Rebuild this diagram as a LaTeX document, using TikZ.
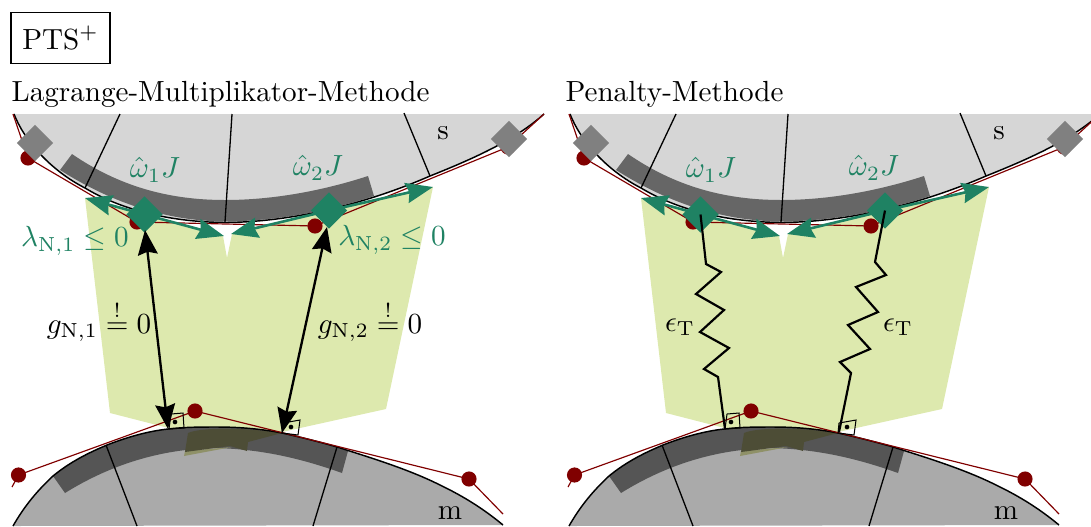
\documentclass[tikz,border=0pt]{standalone}
\usetikzlibrary{arrows.meta}
\definecolor{slavegray}{HTML}{D6D6D6}
\definecolor{mastergray}{HTML}{AAAAAA}
\definecolor{slaveband}{HTML}{666666}
\definecolor{masterband}{HTML}{555555}
\definecolor{patchgreen}{HTML}{DDE9AE}
\definecolor{olive}{HTML}{4D4D36}
\definecolor{olivetip}{HTML}{8F9168}
\definecolor{darkred}{HTML}{800000}
\definecolor{teal}{HTML}{1F8263}
\tikzset{
  grid line/.style={black,line width=0.45pt},
  curve line/.style={black,line width=0.5pt},
  red line/.style={darkred,line width=0.4pt},
  red dot/.style={circle,fill=darkred,inner sep=0pt,minimum size=5.2pt},
  gray node/.style={rectangle,rotate=45,fill=black!50,inner sep=0pt,minimum size=8.8pt},
  teal node/.style={rectangle,rotate=45,fill=teal,inner sep=0pt,minimum size=8.8pt},
  teal arrow/.style={teal,line width=0.9pt,-{Stealth[length=9.3pt,width=7pt,inset=1pt]}},
  gap arrow/.style={black,line width=0.8pt,{Stealth[length=8.5pt,width=6.8pt,inset=1pt]}-{Stealth[length=8.5pt,width=6.8pt,inset=1pt]}},
  spring line/.style={black,line width=0.75pt,line join=miter},
  perp box/.style={black,line width=0.35pt},
  perp dot/.style={circle,fill=black,inner sep=0pt,minimum size=1.6pt},
  teal label/.style={text=teal,inner sep=0pt},
  black label/.style={text=black,inner sep=0pt},
}
\newcommand{\slavecurve}{(14,114) .. controls (24,140) and (50,170) .. (85,188) .. controls (125,212) and (175,222) .. (225,222.5) .. controls (300,222) and (375,200) .. (430,176) .. controls (475,158) and (515,140) .. (544,114)}
\newcommand{\mastercurve}{(13,526) .. controls (25,505) and (38,490) .. (53,476) .. controls (70,462) and (88,453) .. (107,445) .. controls (130,436) and (150,431) .. (168,429) .. controls (185,427) and (200,427) .. (217,427) .. controls (240,427) and (262,429) .. (282,433) .. controls (300,437) and (320,442) .. (337,447) .. controls (375,459) and (410,470) .. (440,485) .. controls (465,497) and (485,510) .. (503,525)}
\newcommand{\panel}{%
  % contact patch
  \fill[patchgreen] (85,198) -- (145,214) -- (223,236) -- (227,258) -- (232,234) -- (329,210) -- (433,187) -- (386,409) -- (282,432) -- (188,440) -- (188,433) -- (110,413) -- cycle;
  % slave body
  \fill[slavegray] \slavecurve -- cycle;
  \fill[slaveband] (72,154) .. controls (120,187) and (170,200) .. (225,200) .. controls (275,200) and (325,190) .. (368,176) -- (374,196) .. controls (325,212) and (275,221) .. (225,221.5) .. controls (170,221) and (115,205) .. (60,170) -- cycle;
  \draw[grid line] (120,114) -- (85,188);
  \draw[grid line] (232,114) -- (225,222);
  \draw[grid line] (404,113) -- (430,176);
  \draw[curve line] \slavecurve;
  % master body
  \fill[mastergray] \mastercurve -- cycle;
  \fill[masterband] (53,476) .. controls (70,462) and (88,453) .. (107,445) .. controls (130,436) and (150,431) .. (168,429) .. controls (185,427) and (200,427) .. (217,427) .. controls (240,427) and (262,429) .. (282,433) .. controls (300,437) and (320,442) .. (348,451) -- (342,473) .. controls (300,458) and (260,449) .. (215,448) .. controls (160,449) and (110,465) .. (65,493) -- cycle;
  \fill[olivetip] (185,451) -- (184,456) -- (232,447) -- cycle;
  \fill[olive] (188,433) .. controls (200,427.5) and (240,427) .. (282,433) -- (248,442) -- (247,451) -- (230,446) -- (185,452) -- cycle;
  \draw[grid line] (106,445) -- (137,526);
  \draw[grid line] (337,447) -- (313,526);
  \draw[curve line] \mastercurve;
  % slave segments and nodes
  \node[red dot] (s0) at (28,158) {};
  \node[red dot] (s1) at (137,222) {};
  \node[red dot] (s2) at (315,226) {};
  \node[red dot] (s3) at (508,147) {};
  \coordinate (s4) at (13,114);
  \coordinate (s5) at (544,114);
  \draw[red line] (s4) -- (s0.center) -- (s1.center) -- (s2.center) -- (s3.center) -- (s5);
  \node[red dot] (m0) at (18.5,475) {};
  \node[red dot] (m1) at (195,411) {};
  \node[red dot] (m2) at (469,479) {};
  \coordinate (m3) at (12,487);
  \coordinate (m4) at (503,514);
  \draw[red line] (m3) -- (m0.center) -- (m1.center) -- (m2.center) -- (m4);
  \node[gray node] (g1) at (35,143) {};
  \node[gray node] (g2) at (509,139) {};
  % perpendicular marks
  \draw[perp box] (171,414) -- (183,413) -- (184,428) -- (169,429) -- cycle;
  \node[perp dot] (p1) at (175,422) {};
  \draw[perp box] (283,423) -- (300,420) -- (298,435) -- (282,433) -- cycle;
  \node[perp dot] (p2) at (291,427) {};
  % teal arrows
  \node[teal node] (d1) at (144.5,214.5) {};
  \node[teal node] (d2) at (329,210.5) {};
  \coordinate (t1) at (85,198);
  \coordinate (t2) at (224,236);
  \coordinate (t3) at (231,234);
  \coordinate (t4) at (433,187);
  \draw[teal arrow] (d1.center) -- (t1);
  \draw[teal arrow] (d1.center) -- (t2);
  \draw[teal arrow] (d2.center) -- (t3);
  \draw[teal arrow] (d2.center) -- (t4);
  \node[teal label] (w1) at (155,170) {$\hat\omega_1 J$};
  \node[teal label] (w2) at (318,168) {$\hat\omega_2 J$};
  \node[black label] (sl) at (443,133) {s};
  \node[black label] (ml) at (450,513) {m};
}
\begin{document}
\begin{tikzpicture}[x=0.3435pt,y=-0.3435pt]
\useasboundingbox (0,0) rectangle (1091,526);
\clip (0,0) rectangle (1091,526);
\node[draw=black,line width=0.6pt,minimum width=33.8pt,minimum height=17.6pt,inner sep=0pt] (title) at (60.5,38) {PTS$^+$};
\node[black label,anchor=base west] (lt) at (11,101) {Lagrange-Multiplikator-Methode};
\node[black label,anchor=base west] (rt) at (565,101) {Penalty-Methode};
\begin{scope}[name prefix=l-]
  \panel
  \coordinate (a1) at (168,429);
  \coordinate (a2) at (282,433);
  \coordinate (b1) at (145,230);
  \coordinate (b2) at (327,227);
  \draw[gap arrow] (b1) -- (a1);
  \draw[gap arrow] (b2) -- (a2);
  \node[teal label] (ln1) at (75,241) {$\lambda_{\mathrm{N},1} \leq 0$};
  \node[teal label] (ln2) at (392,240) {$\lambda_{\mathrm{N},2} \leq 0$};
  \node[black label] (gn1) at (99,321) {$g_{\mathrm{N},1} \stackrel{!}{=} 0$};
  \node[black label] (gn2) at (370,321) {$g_{\mathrm{N},2} \stackrel{!}{=} 0$};
\end{scope}
\begin{scope}[shift={(556,0)},name prefix=r-]
  \panel
  \coordinate (a1) at (169,429);
  \coordinate (a2) at (283,432);
  \draw[spring line] (d1.center) -- (150,264) -- (165,272) -- (140,294) -- (168,310) -- (144,332) -- (173,348) -- (148,369) -- (162,377) -- (a1);
  \draw[spring line] (d2.center) -- (319,262) -- (330,275) -- (300,287) -- (322,312) -- (292,325) -- (314,349) -- (284,362) -- (295,373) -- (a2);
  \node[black label] (e1) at (124,327) {$\epsilon_{\mathrm{T}}$};
  \node[black label] (e2) at (342,327) {$\epsilon_{\mathrm{T}}$};
\end{scope}
\end{tikzpicture}
\end{document}
